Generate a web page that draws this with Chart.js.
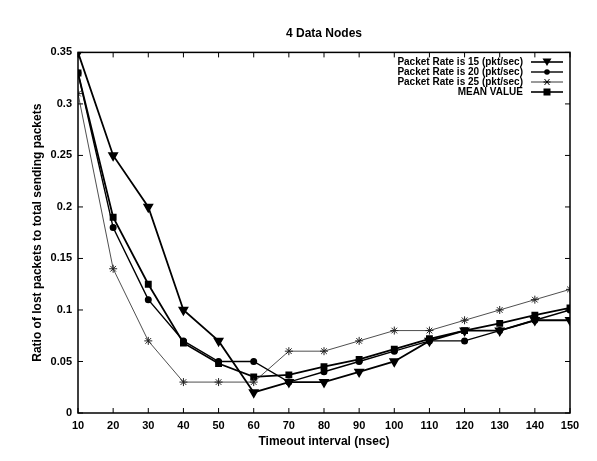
<!DOCTYPE html>
<html>
<head>
<meta charset="utf-8">
<script src="https://cdn.jsdelivr.net/npm/chart.js@4.4.1/dist/chart.umd.min.js"></script>
<style>
  html, body { margin: 0; padding: 0; background: #fff; }
  #wrap { width: 597px; height: 461px; }
</style>
</head>
<body>
<div id="wrap"><canvas id="lossChart" width="597" height="461"></canvas></div>
<script>
const timeouts = [10, 20, 30, 40, 50, 60, 70, 80, 90, 100, 110, 120, 130, 140, 150];
const rate15 = [0.35, 0.25, 0.2, 0.1, 0.07, 0.02, 0.03, 0.03, 0.04, 0.05, 0.07, 0.08, 0.08, 0.09, 0.09];
const rate20 = [0.33, 0.18, 0.11, 0.07, 0.05, 0.05, 0.03, 0.04, 0.05, 0.06, 0.07, 0.07, 0.08, 0.09, 0.10];
const rate25 = [0.31, 0.14, 0.07, 0.03, 0.03, 0.03, 0.06, 0.06, 0.07, 0.08, 0.08, 0.09, 0.10, 0.11, 0.12];
const meanValue = [0.33, 0.19, 0.125, 0.068, 0.048, 0.035, 0.037, 0.045, 0.052, 0.062, 0.072, 0.08, 0.087, 0.095, 0.102];
const seriesNames = ['Packet Rate is 15 (pkt/sec)', 'Packet Rate is 20 (pkt/sec)', 'Packet Rate is 25 (pkt/sec)', 'MEAN VALUE'];

const pts = (vals) => timeouts.map((t, i) => ({ x: t, y: vals[i] }));
const fam = '"Liberation Sans", Arial, sans-serif';

// box frame + inward ticks on all four sides
const framePlugin = {
    id: 'frame',
    afterDatasetsDraw(chart) {
        const { ctx, chartArea: a, scales } = chart;
        ctx.save();
        ctx.strokeStyle = '#000';
        ctx.lineWidth = 1.5;
        ctx.strokeRect(a.left, a.top, a.right - a.left, a.bottom - a.top);
        ctx.lineWidth = 1;
        ctx.beginPath();
        scales.x.ticks.forEach(t => {
            const px = scales.x.getPixelForValue(t.value);
            ctx.moveTo(px, a.bottom); ctx.lineTo(px, a.bottom - 5);
            ctx.moveTo(px, a.top); ctx.lineTo(px, a.top + 5);
        });
        scales.y.ticks.forEach(t => {
            const py = scales.y.getPixelForValue(t.value);
            ctx.moveTo(a.left, py); ctx.lineTo(a.left + 5, py);
            ctx.moveTo(a.right, py); ctx.lineTo(a.right - 5, py);
        });
        ctx.stroke();
        ctx.restore();
    }
};

function marker(ctx, style, x, y) {
    ctx.beginPath();
    if (style === 'tri') {
        ctx.moveTo(x - 4.5, y - 3.5); ctx.lineTo(x + 4.5, y - 3.5); ctx.lineTo(x, y + 4); ctx.closePath(); ctx.fill();
    } else if (style === 'circle') {
        ctx.arc(x, y, 2.8, 0, Math.PI * 2); ctx.fill();
    } else if (style === 'star') {
        ctx.lineWidth = 1;
        ctx.moveTo(x - 3.5, y); ctx.lineTo(x + 3.5, y);
        ctx.moveTo(x - 2.5, y - 3); ctx.lineTo(x + 2.5, y + 3);
        ctx.moveTo(x + 2.5, y - 3); ctx.lineTo(x - 2.5, y + 3);
        ctx.stroke();
    } else {
        ctx.fillRect(x - 3.5, y - 3.5, 7, 7);
    }
}

// legend drawn inside the plot, text right-aligned, sample line on the right
const legendPlugin = {
    id: 'insideLegend',
    afterDraw(chart) {
        const { ctx } = chart;
        const styles = ['tri', 'circle', 'star', 'rect'];
        const widths = [1.6, 1.4, 0.8, 1.6];
        ctx.save();
        ctx.font = 'bold 10px ' + fam;
        ctx.textAlign = 'right';
        ctx.textBaseline = 'middle';
        ctx.fillStyle = '#000';
        ctx.strokeStyle = '#000';
        seriesNames.forEach((name, i) => {
            const y = 62 + i * 10;
            ctx.fillText(name, 523, y);
            ctx.lineWidth = widths[i];
            ctx.beginPath(); ctx.moveTo(531, y); ctx.lineTo(563, y); ctx.stroke();
            marker(ctx, styles[i], 547, y);
        });
        ctx.restore();
    }
};

new Chart(document.getElementById('lossChart'), {
    type: 'line',
    data: {
        datasets: [
            {
                label: seriesNames[0], data: pts(rate15),
                borderColor: '#000', backgroundColor: '#000', borderWidth: 1.8,
                pointStyle: 'triangle', pointRotation: 180, pointRadius: 4.5
            },
            {
                label: seriesNames[1], data: pts(rate20),
                borderColor: '#000', backgroundColor: '#000', borderWidth: 1.4,
                pointStyle: 'circle', pointRadius: 2.8
            },
            {
                label: seriesNames[2], data: pts(rate25),
                borderColor: '#222', backgroundColor: '#000', borderWidth: 0.8,
                pointStyle: 'star', pointRadius: 4, pointBorderWidth: 1
            },
            {
                label: seriesNames[3], data: pts(meanValue),
                borderColor: '#000', backgroundColor: '#000', borderWidth: 1.8,
                pointStyle: 'rect', pointRadius: 3.6
            }
        ]
    },
    options: {
        responsive: false,
        animation: false,
        layout: { padding: { top: 0, right: 27, left: 30, bottom: 12 } },
        scales: {
            x: {
                type: 'linear', min: 10, max: 150,
                grid: { drawOnChartArea: false, drawTicks: false },
                border: { display: false },
                ticks: { stepSize: 10, color: '#000', font: { family: fam, weight: 'bold', size: 11 }, padding: 6, maxRotation: 0 },
                title: { display: true, text: 'Timeout interval (nsec)', color: '#000', font: { family: fam, weight: 'bold', size: 12 }, padding: { top: 2, bottom: 0 } },
                afterFit(scale) { scale.height = 36; }
            },
            y: {
                min: 0, max: 0.35,
                grid: { drawOnChartArea: false, drawTicks: false },
                border: { display: false },
                ticks: {
                    stepSize: 0.05, color: '#000', font: { family: fam, weight: 'bold', size: 11 }, padding: 6,
                    callback: (v) => String(Math.round(v * 100) / 100)
                },
                title: { display: true, text: 'Ratio of lost packets to total sending packets', color: '#000', font: { family: fam, weight: 'bold', size: 12 }, padding: { top: 0, bottom: 8 } },
                afterFit(scale) { scale.width = 48; }
            }
        },
        plugins: {
            legend: { display: false },
            tooltip: { enabled: false },
            title: {
                display: true, text: '4 Data Nodes', color: '#000', fullSize: false,
                font: { family: fam, weight: 'bold', size: 12 },
                padding: { top: 26, bottom: 12 }
            }
        }
    },
    plugins: [framePlugin, legendPlugin]
});
</script>
</body>
</html>
